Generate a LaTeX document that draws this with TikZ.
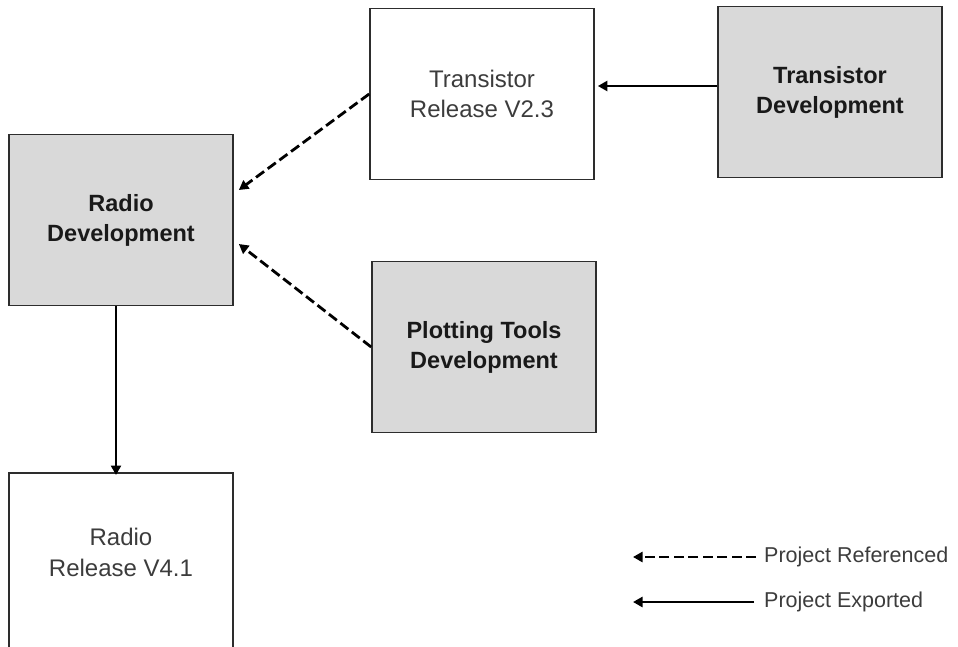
\documentclass[tikz,border=0pt]{standalone}
\usepackage{fontspec}
\setmainfont{Liberation Sans}
\usetikzlibrary{arrows.meta,calc}
\definecolor{boxgray}{RGB}{217,217,217}
\definecolor{edgegray}{RGB}{45,45,45}
\definecolor{txtgray}{RGB}{60,60,60}
\begin{document}
\begin{tikzpicture}[x=1pt,y=-1pt,
  box/.style={draw=edgegray,line width=1.7pt,minimum width=224pt,minimum height=171pt,
    inner sep=0pt,align=center,font=\fontsize{24}{30}\selectfont,text=txtgray},
  devbox/.style={box,fill=boxgray,font=\fontsize{23.5}{30}\selectfont\bfseries,text=black!90},
  plaintext/.style={inner sep=0pt,align=center,font=\fontsize{24}{31}\selectfont,text=txtgray},
  exparrow/.style={line width=2.8pt,-{Triangle[length=9.5pt,width=10pt]}},
  refarrow/.style={exparrow,dash pattern=on 10pt off 4.5pt},
  legtext/.style={anchor=west,inner sep=0pt,font=\fontsize{21.5}{24}\selectfont,text=txtgray}]
\useasboundingbox (0,0) rectangle (958,646);
\clip (0,0) rectangle (958,646);
\node[box]    (tr) at (482,94)  {Transistor\\Release V2.3};
\node[devbox] (td) at (830,92)  {Transistor\\Development};
\node[devbox] (rd) at (121,220) {Radio\\Development};
\node[devbox] (pt) at (484,347) {Plotting Tools\\Development};
\node[box,minimum height=200pt,anchor=north] (rr) at (121,472) {};
\node[plaintext] (rrtext) at (121,552) {Radio\\Release V4.1};
\coordinate (rdup) at ($(rd.east)+(5,-30)$);
\coordinate (rddn) at ($(rd.east)+(5,24)$);
\coordinate (tdout) at ($(td.west)+(0,-6)$);
\draw[exparrow,shorten >=3pt] (tdout) -- (tdout -| tr.east);
\draw[refarrow] (tr.west) -- (rdup);
\draw[refarrow] (pt.west) -- (rddn);
\draw[exparrow] ([xshift=-5pt]rd.south) -- ([xshift=-5pt,yshift=-3pt]rr.north);
\node[legtext] (lref) at (764,557) {Project Referenced};
\node[legtext] (lexp) at (764,602) {Project Exported};
\coordinate (lrefend) at (633,557);
\coordinate (lexpend) at (633,602);
\draw[refarrow] ([xshift=-8pt]lref.west) -- (lrefend);
\draw[exparrow] ([xshift=-10pt]lexp.west) -- (lexpend);
\end{tikzpicture}
\end{document}
